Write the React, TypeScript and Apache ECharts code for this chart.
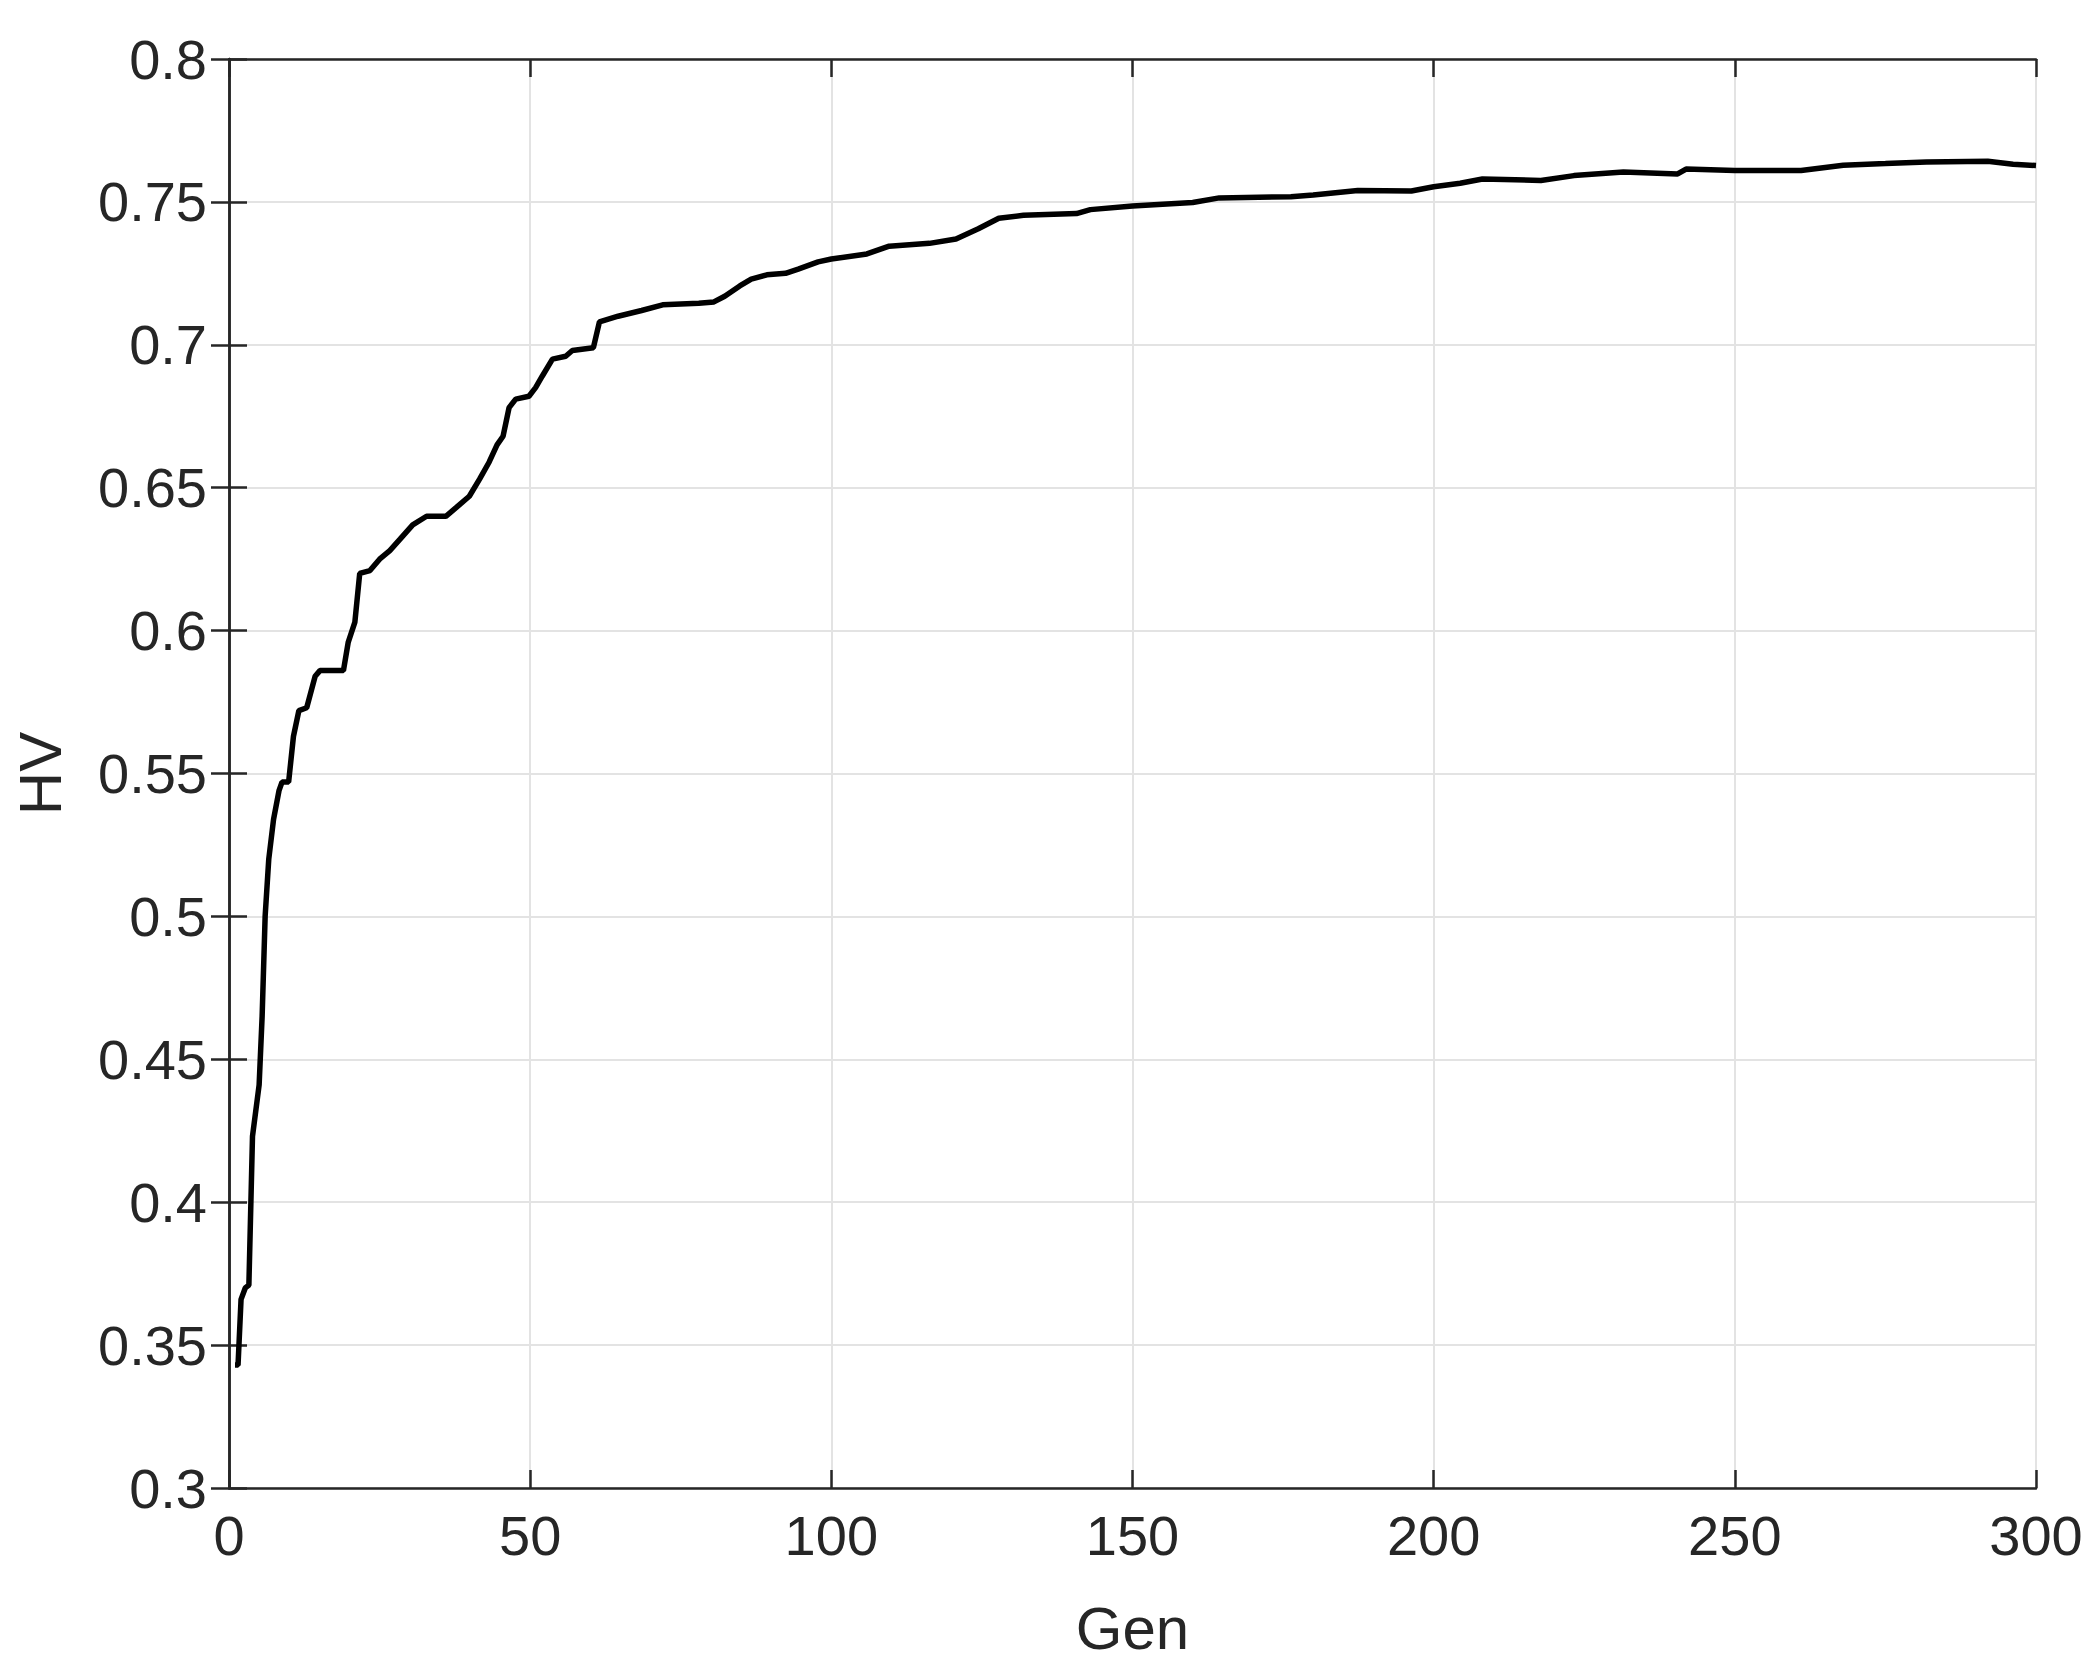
import React, { useEffect, useRef } from "react";
import * as echarts from "echarts";

const gens: number[] = [
  1, 1.5, 2, 2.7, 3.3, 3.9, 5, 5.5, 6, 6.6, 7.4, 8.3, 8.8, 9.9, 10.7, 11.6, 12.9, 14.3, 15.1, 19,
  19.8, 20.9, 21.7, 23.4, 25, 26.7, 28.4, 30.5, 32.8, 36, 37.7, 39.9, 41.6, 43.2, 44.5, 45.5, 46.5,
  47.6, 49.8, 50.9, 52, 53.7, 55.9, 57, 60.5, 61.5, 64.6, 68.5, 72, 78, 80.5, 82.3, 84.8, 86.7, 89.3,
  92.4, 94.5, 97.8, 100, 105.9, 109.6, 116.3, 120.7, 124.4, 127.8, 131.9, 140.7, 143, 150, 160,
  164.4, 176.3, 180, 187.4, 196.3, 200, 204.4, 208.1, 217.8, 223.3, 231.5, 240.5, 241.9, 250, 261,
  268, 275, 281.8, 292, 296.2, 300,
];
const hv: number[] = [
  0.343, 0.343, 0.366, 0.37, 0.371, 0.423, 0.441, 0.465, 0.5, 0.52, 0.534, 0.544, 0.547, 0.547,
  0.563, 0.572, 0.573, 0.584, 0.586, 0.586, 0.596, 0.603, 0.62, 0.621, 0.625, 0.628, 0.632, 0.637,
  0.64, 0.64, 0.643, 0.647, 0.653, 0.659, 0.665, 0.668, 0.678, 0.681, 0.682, 0.685, 0.689, 0.695,
  0.696, 0.698, 0.699, 0.708, 0.71, 0.712, 0.714, 0.7145, 0.715, 0.717, 0.7206, 0.723, 0.7245,
  0.725, 0.7265, 0.729, 0.73, 0.7318, 0.7345, 0.7355, 0.737, 0.7406, 0.7443, 0.7453, 0.7459,
  0.7473, 0.7486, 0.7498, 0.7514, 0.7518, 0.7524, 0.754, 0.7538, 0.7553, 0.7565, 0.758, 0.7575,
  0.7592, 0.7605, 0.7598, 0.7615, 0.761, 0.761, 0.7628, 0.7634, 0.764, 0.7642, 0.7632, 0.7627,
];

const xTicks = { min: 0, max: 300, interval: 50 };
const yTicks = { min: 0.3, max: 0.8, interval: 0.05 };
const xName = "Gen";
const yName = "HV";

const AX = "#262626";
const FONT = "Liberation Sans, Arial, Helvetica, sans-serif";

export default function App() {
  const ref = useRef<HTMLDivElement>(null);
  useEffect(() => {
    if (!ref.current) return;
    const chart = echarts.init(ref.current, undefined, { renderer: "svg" });
    const axLine = { show: true, lineStyle: { color: AX, width: 2.5 } };
    const tick = { show: true, inside: true, length: 18, lineStyle: { color: AX, width: 2.5 } };
    const grid = { show: true, lineStyle: { color: "#e3e3e3", width: 2 } };
    const label = { color: AX, fontSize: 56, fontFamily: FONT };
    chart.setOption({
      animation: false,
      backgroundColor: "#ffffff",
      grid: {
        left: 229,
        right: 63,
        top: 59,
        bottom: 182,
        containLabel: false,
        outerBoundsMode: "none",
      },
      xAxis: [
        {
          type: "value",
          min: xTicks.min,
          max: xTicks.max,
          interval: xTicks.interval,
          position: "bottom",
          name: xName,
          nameLocation: "middle",
          nameGap: 110,
          nameTextStyle: { color: AX, fontSize: 60, fontFamily: FONT },
          axisLine: axLine,
          axisTick: tick,
          axisLabel: { ...label, margin: 19 },
          splitLine: grid,
        },
        {
          type: "value",
          min: xTicks.min,
          max: xTicks.max,
          interval: xTicks.interval,
          position: "top",
          axisLine: axLine,
          axisTick: tick,
          axisLabel: { show: false },
          splitLine: { show: false },
        },
      ],
      yAxis: [
        {
          type: "value",
          min: yTicks.min,
          max: yTicks.max,
          interval: yTicks.interval,
          position: "left",
          name: yName,
          nameLocation: "middle",
          nameGap: 159,
          nameRotate: 90,
          nameTextStyle: { color: AX, fontSize: 60, fontFamily: FONT },
          axisLine: axLine,
          axisTick: tick,
          axisLabel: {
            ...label,
            margin: 22,
            formatter: (v: number) => String(parseFloat(v.toFixed(2))),
          },
          splitLine: grid,
        },
        {
          type: "value",
          min: yTicks.min,
          max: yTicks.max,
          interval: yTicks.interval,
          position: "right",
          axisLine: axLine,
          axisTick: tick,
          axisLabel: { show: false },
          splitLine: { show: false },
        },
      ],
      series: [
        {
          type: "line",
          xAxisIndex: 0,
          yAxisIndex: 0,
          data: gens.map((g, i) => [g, hv[i]]),
          showSymbol: false,
          lineStyle: { color: "#000000", width: 5.5 },
          z: 5,
        },
      ],
    });
    return () => chart.dispose();
  }, []);
  return (
    <div
      ref={ref}
      style={{ position: "absolute", left: 0, top: 0, width: 2099, height: 1670 }}
    />
  );
}
